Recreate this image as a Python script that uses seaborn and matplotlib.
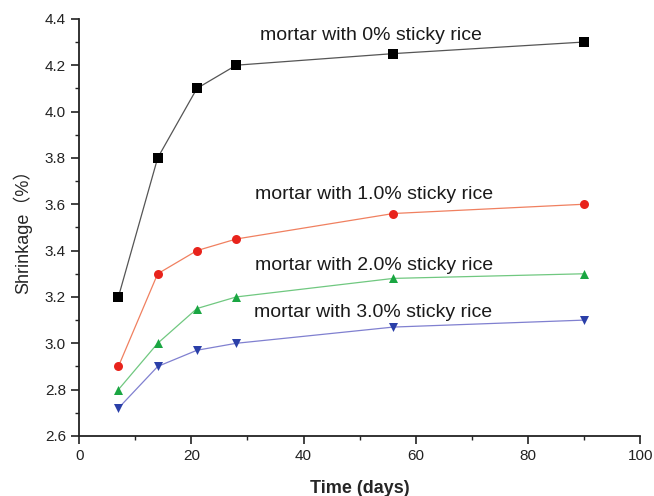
import matplotlib
matplotlib.use('Agg')
import matplotlib.pyplot as plt
import seaborn as sns
import pandas as pd
from matplotlib.ticker import MultipleLocator

days = [7, 14, 21, 28, 56, 90]
rice_0 = [3.2, 3.8, 4.1, 4.2, 4.25, 4.3]
rice_1 = [2.9, 3.3, 3.4, 3.45, 3.56, 3.6]
rice_2 = [2.8, 3.0, 3.15, 3.2, 3.28, 3.3]
rice_3 = [2.72, 2.9, 2.97, 3.0, 3.07, 3.1]
labels = ['mortar with 0% sticky rice', 'mortar with 1.0% sticky rice',
          'mortar with 2.0% sticky rice', 'mortar with 3.0% sticky rice']

sns.set_style('ticks')
plt.rcParams['font.family'] = ['Liberation Sans', 'Noto Sans CJK SC', 'DejaVu Sans']

fig = plt.figure(figsize=(6.54, 4.96), dpi=100)
ax = fig.add_axes([0.121, 0.121, 0.858, 0.841])

series = [rice_0, rice_1, rice_2, rice_3]
line_colors = ['#555555', '#f08060', '#70c880', '#8080d0']
marker_colors = ['#000000', '#e8231c', '#1aa642', '#2a3fa8']
markers = ['s', 'o', '^', 'v']
# label anchor (x in days, y in %)
label_pos = [(32.3, 4.33), (31.4, 3.64), (31.3, 3.335), (31.1, 3.135)]

for vals, lab, lc, mc, mk, pos in zip(series, labels, line_colors, marker_colors, markers, label_pos):
    df = pd.DataFrame({'day': days, 'val': vals})
    sns.lineplot(data=df, x='day', y='val', ax=ax, color=lc, linewidth=0.9)
    ax.scatter(df['day'], df['val'], marker=mk, color=mc, s=42, zorder=3, linewidths=0)
    ax.text(pos[0], pos[1], lab, fontsize=14, ha='left', va='center', color='#1a1a1a')

ax.set_xlim(0, 100)
ax.set_ylim(2.6, 4.4)
ax.xaxis.set_major_locator(MultipleLocator(20))
ax.xaxis.set_minor_locator(MultipleLocator(10))
ax.yaxis.set_major_locator(MultipleLocator(0.2))
ax.yaxis.set_minor_locator(MultipleLocator(0.1))
ax.yaxis.set_major_formatter(matplotlib.ticker.FormatStrFormatter('%.1f'))
ax.tick_params(which='major', direction='out', length=6, width=1.2, labelsize=11,
               colors='#222222')
ax.tick_params(which='minor', direction='out', length=3, width=1.0, colors='#222222')
for s in ['left', 'bottom']:
    ax.spines[s].set_linewidth(1.3)
    ax.spines[s].set_color('#222222')
sns.despine(ax=ax)

ax.set_xlabel('Time (days)', fontsize=13, fontweight='bold', labelpad=12)
ax.set_ylabel('Shrinkage（%）', fontsize=13, labelpad=9)

fig.savefig('out.png', dpi=100)
